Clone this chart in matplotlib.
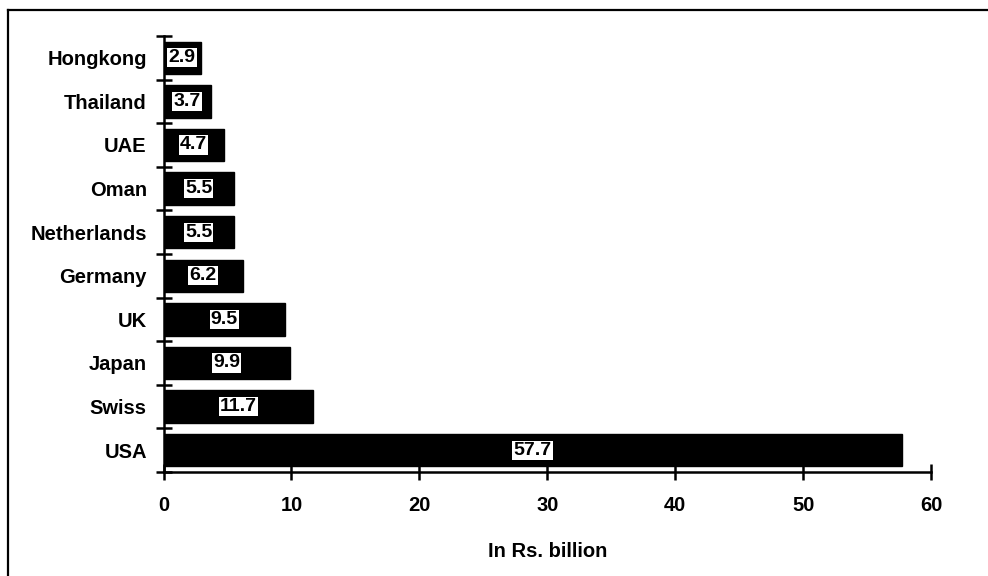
import matplotlib
matplotlib.use("Agg")
import matplotlib.pyplot as plt
from matplotlib.lines import Line2D

# Destinations, listed from top to bottom
countries = ["Hongkong", "Thailand", "UAE", "Oman", "Netherlands",
             "Germany", "UK", "Japan", "Swiss", "USA"]
values = [2.9, 3.7, 4.7, 5.5, 5.5, 6.2, 9.5, 9.9, 11.7, 57.7]
x_ticks = [0, 10, 20, 30, 40, 50, 60]
x_label = "In Rs. billion"

plt.rcParams["font.family"] = ["Liberation Sans", "DejaVu Sans"]
plt.rcParams["font.weight"] = "bold"

fig = plt.figure(figsize=(9.88, 5.76), dpi=100)
ax = fig.add_axes([0.1655, 0.1806, 0.7768, 0.7569])

n = len(countries)
pos = list(range(n - 1, -1, -1))  # first country at the top
ax.barh(pos, values, height=0.74, color="black", edgecolor="black")

for p, v in zip(pos, values):
    ax.text(v / 2, p, f"{v:.1f}", ha="center", va="center",
            fontsize=14, fontweight="bold", color="black",
            bbox=dict(boxstyle="square,pad=0.06", facecolor="white",
                      edgecolor="none"))

ax.set_xlim(0, 60)
ax.set_ylim(-0.5, n - 0.5)

# Category labels centred in each band, tick marks on the band edges
ax.set_yticks([p - 0.5 for p in range(n + 1)])
ax.set_yticklabels([])
ax.set_yticks(pos, minor=True)
ax.set_yticklabels(countries, minor=True, fontsize=14.5, fontweight="bold")
ax.tick_params(axis="y", which="major", direction="inout", length=11,
               width=1.8)
ax.tick_params(axis="y", which="minor", length=0, pad=12)

ax.set_xticks(x_ticks)
ax.set_xticklabels([str(t) for t in x_ticks], fontsize=14.5, fontweight="bold")
ax.tick_params(axis="x", direction="inout", length=11, width=1.8, pad=12)
ax.set_xlabel(x_label, fontsize=14.5, fontweight="bold", labelpad=19)

for side in ("top", "right"):
    ax.spines[side].set_visible(False)
for side in ("left", "bottom"):
    ax.spines[side].set_linewidth(1.8)

# Outer frame: left and top edges
fig.add_artist(Line2D([7.5 / 988, 7.5 / 988], [0, 1 - 10 / 576],
                      transform=fig.transFigure, color="black", lw=1.6))
fig.add_artist(Line2D([7.5 / 988, 1], [1 - 10 / 576, 1 - 10 / 576],
                      transform=fig.transFigure, color="black", lw=1.6))

fig.savefig("out.png", dpi=100)
